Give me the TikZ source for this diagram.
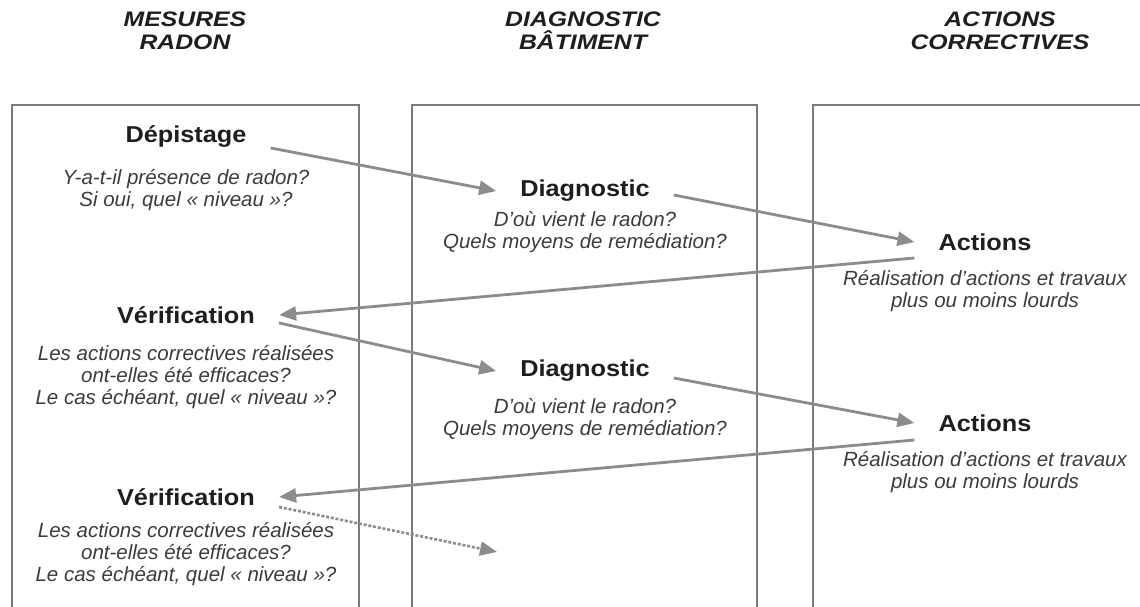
\documentclass[tikz,border=0pt]{standalone}
\usepackage{fontspec}
\setmainfont{Liberation Sans}
\newfontfamily\widesans[FakeStretch=1.1]{Liberation Sans}
\newfontfamily\titlesans[FakeStretch=1.18]{Liberation Sans}
\usepackage{xcolor}
\usetikzlibrary{arrows.meta, positioning}

\definecolor{boxgray}{HTML}{7A7A7A}
\definecolor{arrowgray}{HTML}{8C8C8C}
\definecolor{textdark}{HTML}{1E1E1E}
\definecolor{textgray}{HTML}{3C3C3C}

\tikzset{
  coltitle/.style={font=\titlesans\fontsize{21}{23}\selectfont\bfseries\itshape, text=textdark, align=center},
  stepname/.style={font=\widesans\fontsize{23}{28}\selectfont\bfseries, text=textdark, inner xsep=24pt, inner ysep=2pt},
  stepq/.style={font=\fontsize{20.5}{22}\selectfont\itshape, text=textgray, align=center, inner sep=0pt},
  colbox/.style={draw=boxgray, line width=1.4pt},
  flow/.style={draw=arrowgray, line width=2.8pt, -{Triangle[length=17pt,width=14pt]}},
  nextflow/.style={flow, dash pattern=on 3pt off 1.8pt, line width=2.6pt}
}

\begin{document}
\begin{tikzpicture}[x=1pt, y=-1pt]
\useasboundingbox (0,0) rectangle (1140,607);
\fill[white] (0,0) rectangle (1140,607);

% column titles
\node[coltitle] (titmes) at (185,31) {MESURES\\RADON};
\node[coltitle] (titdiag) at (583,31) {DIAGNOSTIC\\BÂTIMENT};
\node[coltitle] (titact) at (1000,31) {ACTIONS\\CORRECTIVES};

% columns
\draw[colbox] (12,607) -- (12,105) -- (359,105) -- (359,607);
\draw[colbox] (412,607) -- (412,105) -- (757,105) -- (757,607);
\draw[colbox] (1140,105) -- (813,105) -- (813,607);

% first round
\node[stepname] (depist) at (186,137) {Dépistage};
\node[stepq] (depistq) at (186,190) {Y-a-t-il présence de radon?\\Si oui, quel « niveau »?};
\node[stepname] (diag1) at (585,191) {Diagnostic};
\node[stepq] (diag1q) at (585,232) {D'où vient le radon?\\Quels moyens de remédiation?};
\node[stepname] (act1) at (985,242) {Actions};
\node[stepq] (act1q) at (985,291) {Réalisation d'actions et travaux\\plus ou moins lourds};

% second round
\node[stepname] (verif1) at (186,315) {Vérification};
\node[stepq] (verif1q) at (186,377) {Les actions correctives réalisées\\ont-elles été efficaces?\\Le cas échéant, quel « niveau »?};
\node[stepname] (diag2) at (585,371) {Diagnostic};
\node[stepq] (diag2q) at (585,419) {D'où vient le radon?\\Quels moyens de remédiation?};
\node[stepname] (act2) at (985,423) {Actions};
\node[stepq] (act2q) at (985,472) {Réalisation d'actions et travaux\\plus ou moins lourds};

% third round
\node[stepname] (verif2) at (186,497) {Vérification};
\node[stepq] (verif2q) at (186,554) {Les actions correctives réalisées\\ont-elles été efficaces?\\Le cas échéant, quel « niveau »?};
\coordinate (diag3) at (497,552);

% arrows
\draw[flow] ([yshift=-11pt]depist.east) -- (diag1.west);
\draw[flow] ([yshift=-4pt]diag1.east) -- (act1.west);
\draw[flow] ([yshift=-16pt]act1.west) -- (verif1.east);
\draw[flow] ([yshift=-8pt]verif1.east) -- (diag2.west);
\draw[flow] ([yshift=-7pt]diag2.east) -- (act2.west);
\draw[flow] ([yshift=-17pt]act2.west) -- (verif2.east);
\draw[nextflow] ([yshift=-10pt]verif2.east) -- (diag3);
\end{tikzpicture}
\end{document}
